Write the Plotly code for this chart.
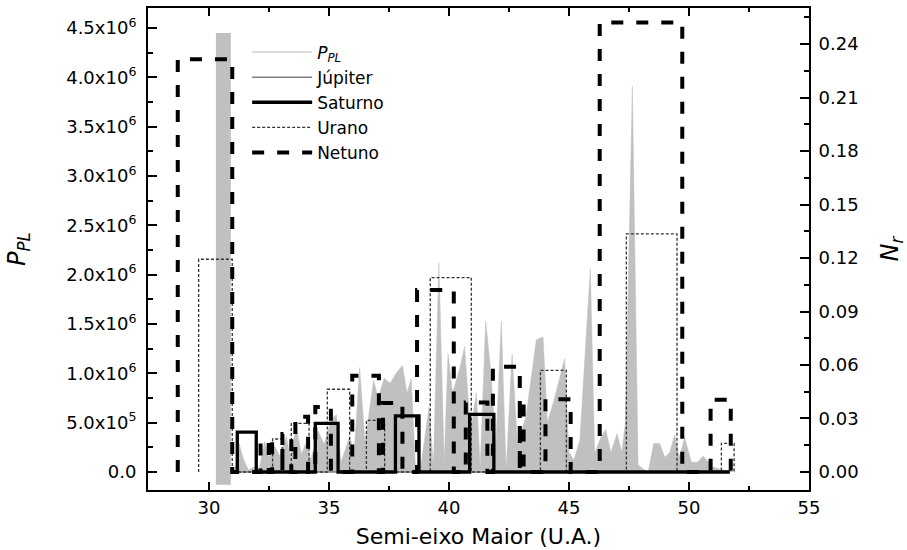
import plotly.graph_objects as go

# ---------------- data ----------------
# P_PL profile (left axis), x in AU, values in units of 1e6
PPL_X = [31.07, 31.25, 31.45, 31.65, 31.85, 32.1, 32.32, 32.5, 32.7, 32.95, 33.22, 33.4, 33.64, 33.85,
         34.05, 34.25, 34.54, 34.8, 35.1, 35.31, 35.5, 35.86, 36.05, 36.28, 36.5, 36.86, 37.05, 37.3,
         37.55, 37.8, 38.06, 38.25, 38.43, 38.6, 38.85, 39.17, 39.35, 39.58, 39.8, 39.96, 40.15, 40.45,
         40.65, 40.9, 41.14, 41.3, 41.53, 41.75, 41.95, 42.18, 42.38, 42.63, 42.85, 43.2, 43.64, 43.92,
         44.1, 44.4, 44.82, 45.0, 45.2, 45.45, 45.89, 46.07, 46.34, 46.53, 46.75, 47.0, 47.2, 47.35,
         47.64, 47.88, 48.1, 48.3, 48.53, 48.78, 48.99, 49.2, 49.4, 49.6, 49.82, 50.1, 50.35, 50.59,
         51.0, 51.4, 51.97]
PPL_M = [0.0, 0.29, 0.12, 0.02, 0.05, 0.04, 0.31, 0.15, 0.28, 0.16, 0.36, 0.14, 0.46, 0.18,
         0.30, 0.12, 0.42, 0.28, 0.54, 0.58, 0.10, 0.36, 0.20, 1.06, 0.30, 0.93, 0.75, 0.95,
         0.90, 1.00, 1.08, 0.80, 0.95, 0.05, 0.10, 0.66, 0.05, 2.12, 0.10, 1.20, 0.80, 1.05,
         1.27, 0.40, 0.80, 0.05, 1.53, 1.00, 0.25, 1.53, 0.02, 1.20, 0.30, 0.55, 1.34, 1.37,
         0.50, 0.75, 1.15, 0.20, 0.12, 0.32, 2.06, 0.19, 0.36, 0.43, 0.20, 0.39, 0.20, 0.50,
         3.91, 0.07, 0.03, 0.0, 0.29, 0.29, 0.15, 0.20, 0.375, 0.15, 0.35, 0.10, 0.10, 0.16,
         0.05, 0.02, 0.0]

# grey band near Neptune's orbit (left axis)
BAND_X = [30.29, 30.91]
BAND_Y = [-0.13e6, 4.45e6]

# resonance boxes (right axis, N_r): left edge, right edge, height
JUP_X = [30.95, 51.7]
JUP_Y = [0.0, 0.0]

SAT_LEFT = [31.18, 34.43, 37.77, 40.86]
SAT_RIGHT = [31.97, 35.38, 38.75, 41.87]
SAT_NR = [0.0223, 0.0273, 0.0315, 0.0323]
SAT_BASE = [30.93, 51.7]

URA_LEFT = [29.57, 32.65, 33.43, 34.93, 36.56, 39.22, 43.81, 47.39, 51.35]
URA_RIGHT = [30.97, 33.05, 34.17, 35.86, 37.32, 40.93, 44.89, 49.50, 51.88]
URA_NR = [0.1193, 0.0185, 0.0273, 0.0464, 0.029, 0.109, 0.057, 0.1335, 0.0161]

NET_LEFT = [28.70, 32.15, 32.63, 33.06, 33.60, 34.43, 35.97, 37.25, 38.67, 40.70, 41.83, 42.95, 44.02, 46.28, 50.90]
NET_RIGHT = [30.97, 32.49, 33.06, 33.43, 34.13, 35.08, 37.08, 38.06, 40.20, 41.60, 42.95, 43.11, 45.07, 49.72, 51.74]
NET_NR = [0.2315, 0.0175, 0.0155, 0.0213, 0.031, 0.0365, 0.054, 0.0387, 0.102, 0.039, 0.059, 0.040, 0.0408, 0.252, 0.0405]

LEFT_TICK_VALS = [0, 0.5e6, 1.0e6, 1.5e6, 2.0e6, 2.5e6, 3.0e6, 3.5e6, 4.0e6, 4.5e6]
LEFT_TICK_TEXT = ["0.0", "5.0x10<sup>5</sup>", "1.0x10<sup>6</sup>", "1.5x10<sup>6</sup>",
                  "2.0x10<sup>6</sup>", "2.5x10<sup>6</sup>", "3.0x10<sup>6</sup>",
                  "3.5x10<sup>6</sup>", "4.0x10<sup>6</sup>", "4.5x10<sup>6</sup>"]


def steps(lefts, rights, heights, base=None):
    xs, ys = [], []
    if base:
        xs.append(base[0]); ys.append(0.0)
    for a, b, h in zip(lefts, rights, heights):
        xs += [a, a, b, b]
        ys += [0.0, h, h, 0.0]
    if base:
        xs.append(base[1]); ys.append(0.0)
    return xs, ys


FONT = "DejaVu Sans"

fig = go.Figure()

# P_PL filled profile
fig.add_trace(go.Scatter(x=PPL_X, y=[v * 1e6 for v in PPL_M], mode="lines", fill="tozeroy",
                         fillcolor="#c0c0c0", line=dict(color="#c0c0c0", width=0.5),
                         showlegend=False, hoverinfo="skip"))
# legend entry for P_PL
fig.add_trace(go.Scatter(x=[None], y=[None], mode="lines", name="<i>P</i><sub><i>PL</i></sub>",
                         line=dict(color="#d0d0d0", width=1.5), legendrank=1))

fig.add_trace(go.Scatter(x=JUP_X, y=JUP_Y, yaxis="y2", mode="lines", name="Júpiter",
                         line=dict(color="#808080", width=1.5), legendrank=2))

ux, uy = steps(URA_LEFT, URA_RIGHT, URA_NR)
fig.add_trace(go.Scatter(x=ux, y=uy, yaxis="y2", mode="lines", name="Urano",
                         line=dict(color="#333333", width=1.3, dash="3px,2px"), legendrank=4))

nx, ny = steps(NET_LEFT, NET_RIGHT, NET_NR)
fig.add_trace(go.Scatter(x=nx, y=ny, yaxis="y2", mode="lines", name="Netuno",
                         line=dict(color="black", width=4, dash="12px,13px"), legendrank=5))

sx, sy = steps(SAT_LEFT, SAT_RIGHT, SAT_NR, SAT_BASE)
fig.add_trace(go.Scatter(x=sx, y=sy, yaxis="y2", mode="lines", name="Saturno",
                         line=dict(color="black", width=3.3), legendrank=3))

# grey band
bx = [BAND_X[0], BAND_X[0], BAND_X[1], BAND_X[1], BAND_X[0]]
by = [BAND_Y[0], BAND_Y[1], BAND_Y[1], BAND_Y[0], BAND_Y[0]]
fig.add_trace(go.Scatter(x=bx, y=by, mode="lines", fill="toself", fillcolor="#c0c0c0",
                         line=dict(color="#c0c0c0", width=0), showlegend=False, hoverinfo="skip"))

tickfont = dict(family=FONT, size=18, color="black")

fig.update_layout(
    width=907, height=550,
    margin=dict(l=148, r=98, t=8, b=60, autoexpand=False),
    paper_bgcolor="white", plot_bgcolor="white",
    font=dict(family=FONT, color="black"),
    showlegend=True,
    legend=dict(x=0.15, y=0.945, xanchor="left", yanchor="top", bgcolor="rgba(0,0,0,0)",
                borderwidth=0, font=dict(family=FONT, size=17, color="black"),
                itemwidth=60, tracegroupgap=0),
    xaxis=dict(range=[27.46, 55], tick0=0, dtick=5, ticks="inside", ticklen=8, tickwidth=1.5,
               tickcolor="black", showline=True, linewidth=2, linecolor="black", mirror="ticks",
               showgrid=False, zeroline=False, tickfont=tickfont, automargin=False,
               minor=dict(tick0=0, dtick=2.5, ticks="inside", ticklen=4, tickwidth=1.5, tickcolor="black"),
               title=dict(text="Semi-eixo Maior (U.A.)", font=dict(family=FONT, size=22), standoff=12)),
    yaxis=dict(range=[-0.1824e6, 4.703e6], tickmode="array", tickvals=LEFT_TICK_VALS,
               ticktext=LEFT_TICK_TEXT, ticks="inside", ticklen=9, tickwidth=1.5, tickcolor="black",
               showline=True, linewidth=2, linecolor="black", mirror=False, showgrid=False,
               zeroline=False, tickfont=tickfont, ticklabelstandoff=6, automargin=False,
               minor=dict(tick0=0, dtick=0.25e6, ticks="inside", ticklen=5, tickwidth=1.5, tickcolor="black"),
               title=dict(text="<i>P</i><sub><i>PL</i></sub>", font=dict(family=FONT, size=24), standoff=34)),
    yaxis2=dict(range=[-0.0101, 0.2602], overlaying="y", side="right", anchor="x", tick0=0, dtick=0.03,
                tickformat=".2f", ticks="inside", ticklen=9, tickwidth=1.5, tickcolor="black",
                showline=True, linewidth=2, linecolor="black", showgrid=False, zeroline=False,
                tickfont=tickfont, ticklabelstandoff=4, automargin=False,
                minor=dict(tick0=0, dtick=0.015, ticks="inside", ticklen=5, tickwidth=1.5, tickcolor="black"),
                title=dict(text="<i>N</i><sub><i>r</i></sub>", font=dict(family=FONT, size=24), standoff=24)),
)

fig.write_html("out.html", config={"displayModeBar": False})
